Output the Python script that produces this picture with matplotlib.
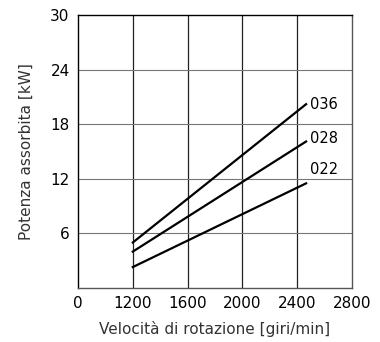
import matplotlib
matplotlib.use("Agg")
import matplotlib.pyplot as plt

# rpm axis is broken: "0" sits one step left of 1200
x_ticks = [800, 1200, 1600, 2000, 2400, 2800]
x_labels = ["0", "1200", "1600", "2000", "2400", "2800"]
y_ticks = [0, 6, 12, 18, 24, 30]
y_labels = ["", "6", "12", "18", "24", "30"]

rpm = [1200, 2465]
series = {
  "036": [5.0, 20.2],
  "028": [4.0, 16.1],
  "022": [2.3, 11.5],
}
label_y = {"036": 20.2, "028": 16.4, "022": 13.0}

fig = plt.figure(figsize=(3.8, 3.42), dpi=100)
ax = fig.add_axes([78/380, 1 - 288/342, (352-78)/380, (288-15)/342])

for x in x_ticks[1:-1]:
  ax.axvline(x, color="#222222", lw=0.9, zorder=1)
for y in y_ticks[1:-1]:
  ax.axhline(y, color="#777777", lw=0.8, zorder=1)

for name, vals in series.items():
  ax.plot(rpm, vals, color="black", lw=1.6, zorder=3)
  ax.text(2490, label_y[name], name, fontsize=10.5, va="center", ha="left",
          family="DejaVu Sans Condensed")

ax.set_xlim(800, 2800)
ax.set_ylim(0, 30)
ax.set_xticks(x_ticks)
ax.set_xticklabels(x_labels, family="DejaVu Sans Condensed", fontsize=11)
ax.set_yticks(y_ticks)
ax.set_yticklabels(y_labels, family="DejaVu Sans Condensed", fontsize=11)
ax.tick_params(length=0, pad=6)
for s in ax.spines.values():
  s.set_linewidth(1.0)
ax.spines["right"].set_color("#555555")
ax.spines["bottom"].set_color("#555555")

ax.set_xlabel("Velocità di rotazione [giri/min]", fontsize=11, color="#333333", labelpad=7)
ax.set_ylabel("Potenza assorbita [kW]", fontsize=11, color="#333333", labelpad=12)

fig.savefig("out.png", dpi=100)
